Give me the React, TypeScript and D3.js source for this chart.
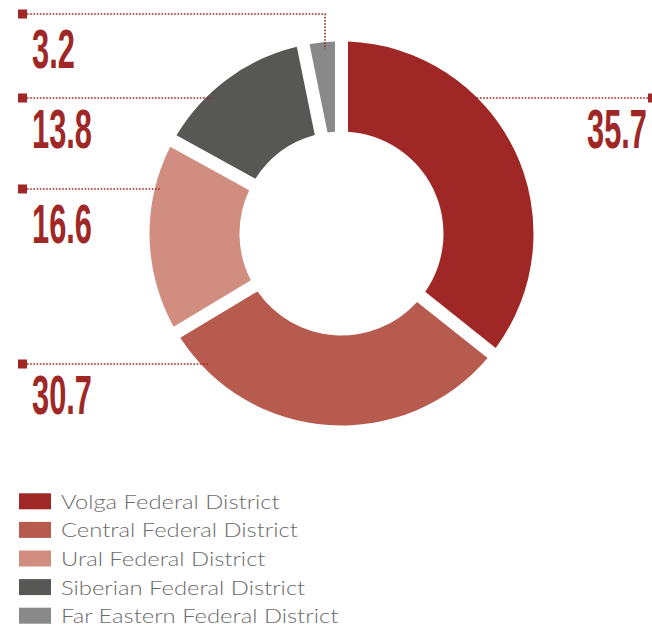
import React from "react";
import * as d3 from "d3";

const districts = [
  "Volga Federal District",
  "Central Federal District",
  "Ural Federal District",
  "Siberian Federal District",
  "Far Eastern Federal District",
];
const shares = [35.7, 30.7, 16.6, 13.8, 3.2];
const colors = ["#9F2726", "#B85B4F", "#D18E80", "#575755", "#898989"];

const W = 652;
const H = 628;
const CX = 341.5;
const CY = 233.5;
const R_OUT = 192;
const R_IN = 102;
const GAP = 13;
const RED = "#9F2726";

// label layout: leader row y, side, label baseline
const labelLayout = [
  { y: 98, side: "right", base: 148 },
  { y: 364, side: "left", base: 414 },
  { y: 189, side: "left", base: 243 },
  { y: 98, side: "left", base: 148 },
  { y: 14, side: "left", base: 68, vertical: true },
];

export default function App() {
  const pie = d3
    .pie<number>()
    .sort(null)
    .value((d) => d)
    .startAngle(0)
    .endAngle(2 * Math.PI);
  const arcs = pie(shares);
  const arc = d3
    .arc<d3.PieArcDatum<number>>()
    .innerRadius(R_IN)
    .outerRadius(R_OUT)
    .padRadius(R_OUT)
    .padAngle(GAP / R_OUT);

  const legendY = d3
    .scaleBand<string>()
    .domain(districts)
    .range([487, 630])
    .paddingInner(0);

  return (
    <svg
      width={W}
      height={H}
      style={{ position: "absolute", left: 0, top: 0, display: "block" }}
    >
      <g transform={`translate(${CX},${CY})`}>
        {arcs.map((a, i) => (
          <path key={i} d={arc(a) || ""} fill={colors[i]} />
        ))}
      </g>
      {arcs.map((a, i) => {
        const L = labelLayout[i];
        const r = R_OUT - 4;
        let leader: React.ReactNode;
        if (L.vertical) {
          const x = 325;
          const yEnd = CY - Math.sqrt(r * r - (x - CX) * (x - CX)) + 3;
          leader = (
            <polyline
              points={`27,${L.y} ${x},${L.y} ${x},${yEnd}`}
              fill="none"
              stroke={RED}
              strokeWidth={1.6}
              strokeDasharray="1.6 1.6"
            />
          );
        } else {
          const dy = L.y - CY;
          const dx = Math.sqrt(r * r - dy * dy) * (L.side === "right" ? 1 : -1);
          const xEnd = CX + dx + (L.side === "right" ? -2 : 2);
          const x0 = L.side === "right" ? 648 : 27;
          leader = (
            <line
              x1={x0}
              x2={xEnd}
              y1={L.y}
              y2={L.y}
              stroke={RED}
              strokeWidth={1.6}
              strokeDasharray="1.6 1.6"
            />
          );
        }
        const sqX = L.side === "right" ? 648 : 18;
        const tx = L.side === "right" ? 647 : 32;
        return (
          <g key={i}>
            {leader}
            <rect x={sqX} y={L.y - 4.5} width={9} height={9} fill={RED} />
            <text
              transform={`translate(${tx},${L.base}) scale(0.55,1)`}
              textAnchor={L.side === "right" ? "end" : "start"}
              fontFamily="'Liberation Sans', Arial, sans-serif"
              fontWeight={700}
              fontSize={56}
              fill={RED}
            >
              {String(shares[i])}
            </text>
          </g>
        );
      })}
      <g>
        {districts.map((d, i) => {
          const y = (legendY(d) || 0) + legendY.bandwidth() / 2;
          return (
            <g key={d}>
              <rect x={19} y={y - 8} width={32} height={16} fill={colors[i]} />
              <text
                transform={`translate(61,${y + 7.5}) scale(1.19,1)`}
                fontFamily="Lato, sans-serif"
                fontWeight={300}
                fontSize={20}
                fill="#6b6b6b"
              >
                {d}
              </text>
            </g>
          );
        })}
      </g>
    </svg>
  );
}
